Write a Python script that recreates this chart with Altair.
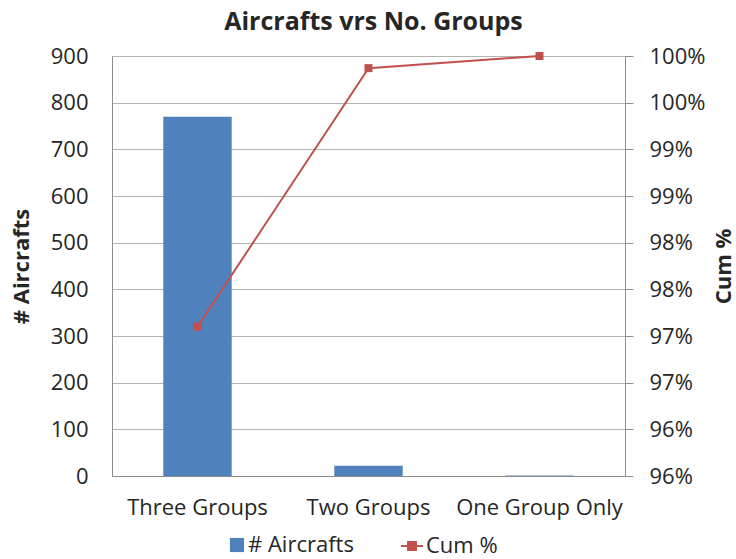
import altair as alt
import pandas as pd

# Aircraft counts by number of groups, with the cumulative share (Pareto view)
categories = ["Three Groups", "Two Groups", "One Group Only"]
aircraft_counts = [770, 22, 1]
cum_share = [0.971, 0.9987, 1.0]

left_ticks = [0, 100, 200, 300, 400, 500, 600, 700, 800, 900]
right_ticks = [0.955, 0.96, 0.965, 0.97, 0.975, 0.98, 0.985, 0.99, 0.995, 1.0]
right_labels = ["96%", "96%", "97%", "97%", "98%", "98%", "99%", "99%", "100%", "100%"]

BLUE = "#4F81BD"
RED = "#C0504D"
GRID = "#b3b3b3"
DOMAIN = "#8c8c8c"
TEXT = "#262626"
FONT = "Open Sans"
FS = 22

df = pd.DataFrame({
    "group": categories,
    "count": aircraft_counts,
    "cum": cum_share,
    "bar_series": ["# Aircrafts"] * len(categories),
    "line_series": ["Cum %"] * len(categories),
})

x_enc = alt.X(
    "group:N",
    sort=categories,
    scale=alt.Scale(paddingInner=0.6, paddingOuter=0.3),
    axis=alt.Axis(title=None, labelAngle=0, ticks=False, domainColor=DOMAIN,
                  labelFontSize=FS, labelColor=TEXT, labelFont=FONT, labelPadding=21),
)

bars = alt.Chart(df).mark_bar().encode(
    x=x_enc,
    y=alt.Y("count:Q",
            scale=alt.Scale(domain=[0, 900], nice=False),
            axis=alt.Axis(title="# Aircrafts", values=left_ticks, ticks=False,
                          grid=True, gridColor=GRID, domainColor=DOMAIN,
                          labelFontSize=FS, labelColor=TEXT, labelFont=FONT,
                          labelPadding=24, titleFontSize=FS, titleFont=FONT,
                          titleFontWeight="bold", titleColor=TEXT, titlePadding=17)),
    color=alt.Color("bar_series:N",
                    scale=alt.Scale(domain=["# Aircrafts"], range=[BLUE]),
                    legend=alt.Legend(orient="none", legendX=114, legendY=478,
                                      title=None, symbolType="square", symbolSize=200,
                                      symbolStrokeWidth=0, labelFontSize=FS,
                                      labelFont=FONT, labelColor=TEXT, labelOffset=0)),
)

label_expr = "[" + ",".join(f"'{s}'" for s in right_labels) + "][indexof([" + \
    ",".join(str(v) for v in right_ticks) + "], datum.value)]"

cum_scale = alt.Scale(domain=[0.955, 1.0], nice=False, zero=False)

y_right = alt.Y("cum:Q",
                scale=cum_scale,
                axis=alt.Axis(title="Cum %", orient="right", values=right_ticks,
                              labelExpr=label_expr, grid=False, ticks=True,
                              tickSize=8, tickColor=DOMAIN, domainColor=DOMAIN,
                              labelFontSize=FS, labelColor=TEXT, labelFont=FONT,
                              labelPadding=16, titleFontSize=FS, titleFont=FONT,
                              titleFontWeight="bold", titleColor=TEXT,
                              titleAngle=270, titleBaseline="top", titlePadding=9))

line = alt.Chart(df).mark_line(strokeWidth=2).encode(
    x=alt.X("group:N", sort=categories),
    y=y_right,
    stroke=alt.Stroke("line_series:N",
                      scale=alt.Scale(domain=["Cum %"], range=[RED]),
                      legend=alt.Legend(orient="none", legendX=288, legendY=478,
                                        title=None,
                                        symbolType="M-1,0L1,0M-0.36,-0.36L0.36,-0.36L0.36,0.36L-0.36,0.36Z",
                                        symbolSize=484, symbolStrokeWidth=2,
                                        symbolFillColor=RED, labelFontSize=FS,
                                        labelFont=FONT, labelColor=TEXT, labelOffset=2)),
)

points = alt.Chart(df).mark_point(shape="square", filled=True, size=64,
                                  color=RED, opacity=1).encode(
    x=alt.X("group:N", sort=categories),
    y=y_right,
)

right_layer = alt.layer(line, points)

chart = alt.layer(bars, right_layer).resolve_scale(
    y="independent", color="independent"
).properties(
    width=513,
    height=420,
    autosize="none",
    padding={"left": 112, "top": 56, "right": 111, "bottom": 83},
    title=alt.TitleParams("Aircrafts vrs No. Groups", anchor="middle", frame="group",
                          fontSize=25, font=FONT, fontWeight="bold", color=TEXT,
                          offset=10, dx=5),
).configure_view(stroke=None).configure(background="white")

chart.save("out.html", embed_options={"renderer": "svg", "actions": False})
